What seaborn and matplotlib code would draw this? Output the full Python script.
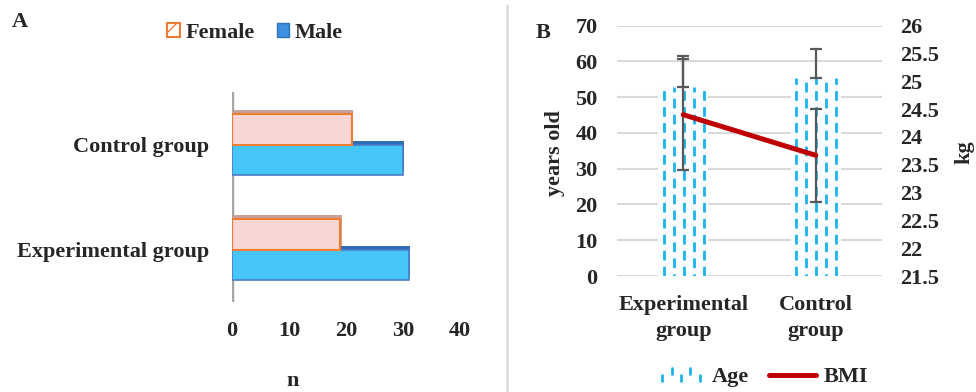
import numpy as np
import pandas as pd
import matplotlib
matplotlib.use("Agg")
import matplotlib.pyplot as plt
import seaborn as sns
from matplotlib.lines import Line2D
from matplotlib.patches import Patch
from matplotlib.legend_handler import HandlerBase
import matplotlib.patheffects as pe

# ---------------- data ----------------
groups_a = ["Control group", "Experimental group"]
sexes = ["Female", "Male"]
female_n = [21, 19]
male_n = [30, 31]
x_ticks_a = [0, 10, 20, 30, 40]

groups_b = ["Experimental\ngroup", "Control\ngroup"]
age_mean = [52.8, 55.3]
age_err = [8.7, 8.3]
bmi_mean = [24.4, 23.67]
bmi_err = [1.0, 0.84]
left_ticks = [0, 10, 20, 30, 40, 50, 60, 70]
right_ticks = [21.5, 22, 22.5, 23, 23.5, 24, 24.5, 25, 25.5, 26]

# ---------------- style ----------------
sns.set_theme(style="white")
plt.rcParams["font.family"] = ["Liberation Serif", "DejaVu Serif"]
plt.rcParams["font.weight"] = "bold"
plt.rcParams["lines.scale_dashes"] = False
FS = 16

W, H = 976, 392
fig = plt.figure(figsize=(W / 100, H / 100), dpi=100)

def fx(px):
    return px / W

def fy(py):
    return 1 - py / H

# ---------------- Panel A ----------------
axA = fig.add_axes([fx(232), fy(302), fx(460) - fx(232), fy(92) - fy(302)])
df_a = pd.DataFrame({
    "group": groups_a * 2,
    "sex": [sexes[0]] * len(groups_a) + [sexes[1]] * len(groups_a),
    "n": female_n + male_n,
})
sns.barplot(data=df_a, x="n", y="group", hue="sex", order=groups_a, hue_order=sexes,
            orient="h", width=0.58, palette=["#F7D4D2", "#45C6F7"], saturation=1,
            errorbar=None, legend=False, ax=axA)

styles = [
    dict(fc="#F7D6D3", ec="#ED7D31", lw=1.5, z=3, sh="#C9A19B"),
    dict(fc="#45C6F7", ec="#4A7BC8", lw=1.2, z=2, sh="#2F6DB5"),
]
for cont, st in zip(axA.containers, styles):
    for p in cont:
        p.set_facecolor(st["fc"])
        p.set_edgecolor(st["ec"])
        p.set_linewidth(st["lw"])
        p.set_zorder(st["z"])
        p.set_path_effects([pe.SimplePatchShadow(offset=(1.0, 2.8), shadow_rgbFace=st["sh"], alpha=1.0),
                            pe.Normal()])

axA.axvline(0, color="#A6A6A6", lw=2.5, zorder=1)
axA.set_xlim(0, 40)
axA.set_xticks(x_ticks_a)
axA.set_xlabel("")
axA.set_ylabel("")
for s in axA.spines.values():
    s.set_visible(False)
axA.tick_params(axis="y", length=0, pad=16.5, labelsize=FS)
axA.tick_params(axis="x", length=0, pad=14, labelsize=FS)
for lab in axA.get_xticklabels() + axA.get_yticklabels():
    lab.set_fontweight("bold")

legA_handles = [
    Patch(facecolor="white", edgecolor="#ED7D31", lw=1.5, hatch="//", label="Female"),
    Patch(facecolor="#3D8FE0", edgecolor="#2E75B6", lw=1.0, label="Male"),
]
fig.legend(handles=legA_handles, loc="center", bbox_to_anchor=(fx(255), fy(33)), ncol=2,
           frameon=False, handlelength=0.55, handleheight=0.55,
           handletextpad=0.25, columnspacing=1.0, prop=dict(weight="bold", size=FS))

fig.text(fx(20), fy(22), "A", ha="center", va="center", fontsize=FS, fontweight="bold")
fig.text(fx(293), fy(391), "n", ha="center", va="bottom", fontsize=FS, fontweight="bold")

# separator
fig.add_artist(Line2D([fx(507), fx(507)], [0, fy(5)], transform=fig.transFigure,
                      color="#D9D9D9", lw=1.8))

# ---------------- Panel B ----------------
axB = fig.add_axes([fx(617), fy(276), fx(882) - fx(617), fy(25.7) - fy(276)])
df_b = pd.DataFrame({"group": groups_b, "age": age_mean})
sns.barplot(data=df_b, x="group", y="age", order=groups_b, width=0.38, color="white",
            saturation=1, errorbar=None, ax=axB)

AGE_C = "#1CB4EE"
centers = []
for p in axB.patches:
    p.set_facecolor("#FCFEFF")
    p.set_edgecolor("none")
    p.set_zorder(2)
    x0, w, h = p.get_x(), p.get_width(), p.get_height()
    centers.append(x0 + w / 2)
    for i in range(5):
        xx = x0 + w * (i + 0.55) / 5
        off = 0 if i % 2 == 0 else 5.5
        axB.add_line(Line2D([xx, xx], [0, h], color=AGE_C, lw=2.0,
                            linestyle=(off, (7.0, 4.5)), zorder=2.5))

axB.errorbar(centers, age_mean, yerr=[np.zeros(len(age_mean)), age_err], fmt="none",
             ecolor="#595959", elinewidth=1.6, capsize=4.5, capthick=1.6, zorder=3)

axB.set_ylim(0, 70)
axB.set_yticks(left_ticks)
axB.set_xlim(-0.5, 1.5)
axB.yaxis.grid(True, color="#D9D9D9", lw=1.5)
axB.set_axisbelow(True)
axB.set_xlabel("")
axB.set_ylabel("")
for s in axB.spines.values():
    s.set_visible(False)
axB.tick_params(axis="y", length=0, pad=14, labelsize=FS)
axB.tick_params(axis="x", length=0, pad=14, labelsize=FS)
for lab in axB.get_xticklabels():
    lab.set_linespacing(1.4)
    lab.set_fontweight("bold")
for lab in axB.get_yticklabels():
    lab.set_fontweight("bold")

ax3 = axB.twinx()
ax3.errorbar(centers, bmi_mean, yerr=bmi_err, fmt="none", ecolor="#595959",
             elinewidth=1.6, capsize=4.5, capthick=1.6, zorder=2)
sns.lineplot(x=centers, y=bmi_mean, color="#C00000", lw=3.6, ax=ax3, zorder=3)
ax3.set_ylim(21.5, 26)
ax3.set_yticks(right_ticks)
ax3.set_yticklabels([f"{t:g}" for t in right_ticks], fontweight="bold")
ax3.tick_params(axis="y", length=0, pad=13, labelsize=FS)
ax3.grid(False)
for s in ax3.spines.values():
    s.set_visible(False)
axB.set_xlim(-0.5, 1.5)

fig.text(fx(555), fy(153), "years old", rotation=90, ha="center", va="center",
         fontsize=FS, fontweight="bold")
fig.text(fx(974), fy(152), "kg", rotation=90, ha="right", va="center",
         fontsize=FS, fontweight="bold")
fig.text(fx(543), fy(33), "B", ha="center", va="center", fontsize=FS, fontweight="bold")


class HandlerDash(HandlerBase):
    def create_artists(self, legend, orig_handle, xdescent, ydescent, width, height,
                       fontsize, trans):
        arts = []
        n = 5
        for i in range(n):
            x = -xdescent + width * (i + 0.5) / n
            if i % 2 == 0:
                y0, y1 = 0.1 * height, 0.45 * height
            else:
                y0, y1 = 0.55 * height, 0.9 * height
            arts.append(Line2D([x, x], [y0 - ydescent, y1 - ydescent], color=AGE_C,
                               lw=2.0, transform=trans))
        return arts


age_handle = Patch(facecolor="white", label="Age")
bmi_handle = Line2D([], [], color="#C00000", lw=3.6, label="BMI")
fig.legend(handles=[age_handle, bmi_handle], loc="center",
           bbox_to_anchor=(fx(763), fy(377)), ncol=2, frameon=False,
           handler_map={age_handle: HandlerDash()}, handlelength=2.1,
           handletextpad=0.35, columnspacing=0.9, prop=dict(weight="bold", size=FS))

fig.savefig("out.png", dpi=100)
